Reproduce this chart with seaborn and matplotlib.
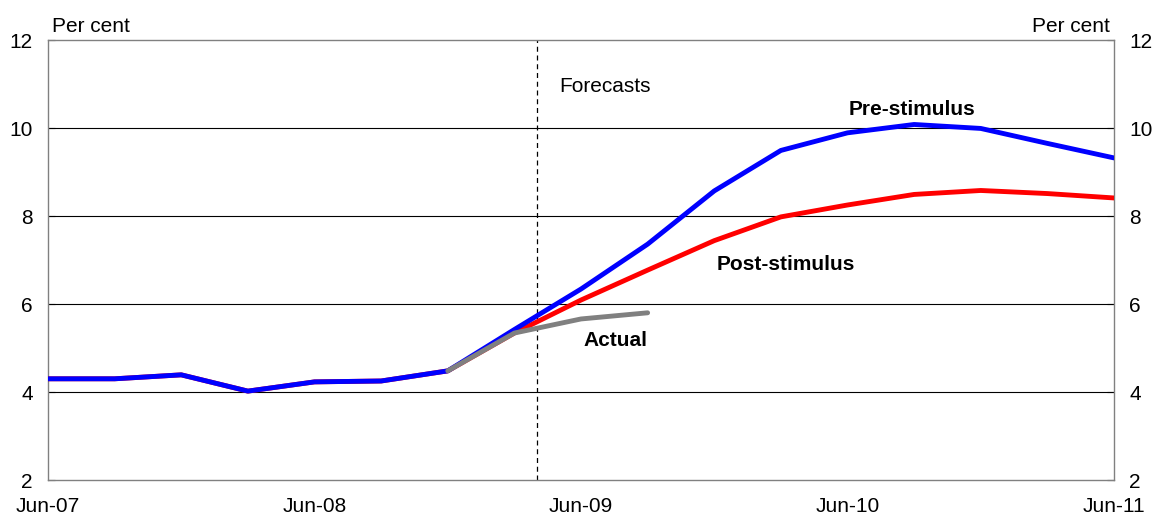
import numpy as np
import pandas as pd
import matplotlib
matplotlib.use("Agg")
import matplotlib.pyplot as plt
import seaborn as sns

# Quarterly periods, Jun-07 to Jun-11
quarters = ["Jun-07", "Sep-07", "Dec-07", "Mar-08", "Jun-08", "Sep-08", "Dec-08",
            "Mar-09", "Jun-09", "Sep-09", "Dec-09", "Mar-10", "Jun-10", "Sep-10",
            "Dec-10", "Mar-11", "Jun-11"]

# Unemployment rate, per cent
pre_stimulus = [4.30, 4.30, 4.39, 4.02, 4.23, 4.25, 4.48,
                5.42, 6.34, 7.36, 8.57, 9.49, 9.89, 10.08,
                9.99, 9.65, 9.32]
post_stimulus = [4.30, 4.30, 4.39, 4.02, 4.23, 4.25, 4.48,
                 5.34, 6.09, 6.77, 7.44, 7.98, 8.25, 8.49,
                 8.58, 8.51, 8.41]
actual = [np.nan, np.nan, np.nan, np.nan, np.nan, np.nan, 4.48,
          5.34, 5.66, 5.80, np.nan, np.nan, np.nan, np.nan,
          np.nan, np.nan, np.nan]

tick_labels = ["Jun-07", "Jun-08", "Jun-09", "Jun-10", "Jun-11"]
y_ticks = [2, 4, 6, 8, 10, 12]
forecast_start = 7 + 1 / 3  # April 2009

sns.set_theme(style="white")
plt.rcParams["font.family"] = ["Liberation Sans", "DejaVu Sans"]
plt.rcParams["text.color"] = "black"
plt.rcParams["xtick.color"] = "black"
plt.rcParams["ytick.color"] = "black"

x = np.arange(len(quarters))
df = pd.DataFrame({"q": x, "Pre-stimulus": pre_stimulus,
                   "Post-stimulus": post_stimulus, "Actual": actual})

fig = plt.figure(figsize=(11.56, 5.2), dpi=100)
ax = fig.add_axes([48 / 1156, 40 / 520, (1114 - 48) / 1156, 440 / 520])

for yv in [4, 6, 8, 10]:
    ax.axhline(yv, color="black", lw=0.8, zorder=1)
ax.axvline(forecast_start, color="black", lw=0.9, ls=(0, (4, 3)), zorder=1)

sns.lineplot(data=df, x="q", y="Post-stimulus", color="#ff0000", lw=3.5, ax=ax, zorder=3)
sns.lineplot(data=df, x="q", y="Pre-stimulus", color="#0000ff", lw=3.5, ax=ax, zorder=4)
sns.lineplot(data=df.dropna(), x="q", y="Actual", color="#808080", lw=3.5, ax=ax, zorder=5)

ax.set_xlim(0, 16)
ax.set_ylim(2, 12)
ax.set_xticks([0, 4, 8, 12, 16])
ax.set_xticklabels(tick_labels)
ax.set_yticks(y_ticks)
ax.set_xlabel("")
ax.set_ylabel("")
ax.tick_params(axis="x", direction="in", length=5, width=0.8,
               pad=12, labelsize=15)
ax.tick_params(axis="y", direction="in", length=5, width=0.8,
               pad=11, labelsize=15, left=True, right=True,
               labelleft=True, labelright=True)
for s in ax.spines.values():
    s.set_color("#808080")
    s.set_linewidth(1.0)

ax.text(0.004, 1.008, "Per cent", transform=ax.transAxes, ha="left", va="bottom", fontsize=15)
ax.text(0.996, 1.008, "Per cent", transform=ax.transAxes, ha="right", va="bottom", fontsize=15)

ax.text(7.67, 10.95, "Forecasts", ha="left", va="center", fontsize=15)
ax.text(12.97, 10.43, "Pre-stimulus", ha="center", va="center", fontsize=15, fontweight="bold")
ax.text(10.04, 6.89, "Post-stimulus", ha="left", va="center", fontsize=15, fontweight="bold")
ax.text(8.03, 5.16, "Actual", ha="left", va="center", fontsize=15, fontweight="bold")

fig.savefig("out.png", dpi=100)
